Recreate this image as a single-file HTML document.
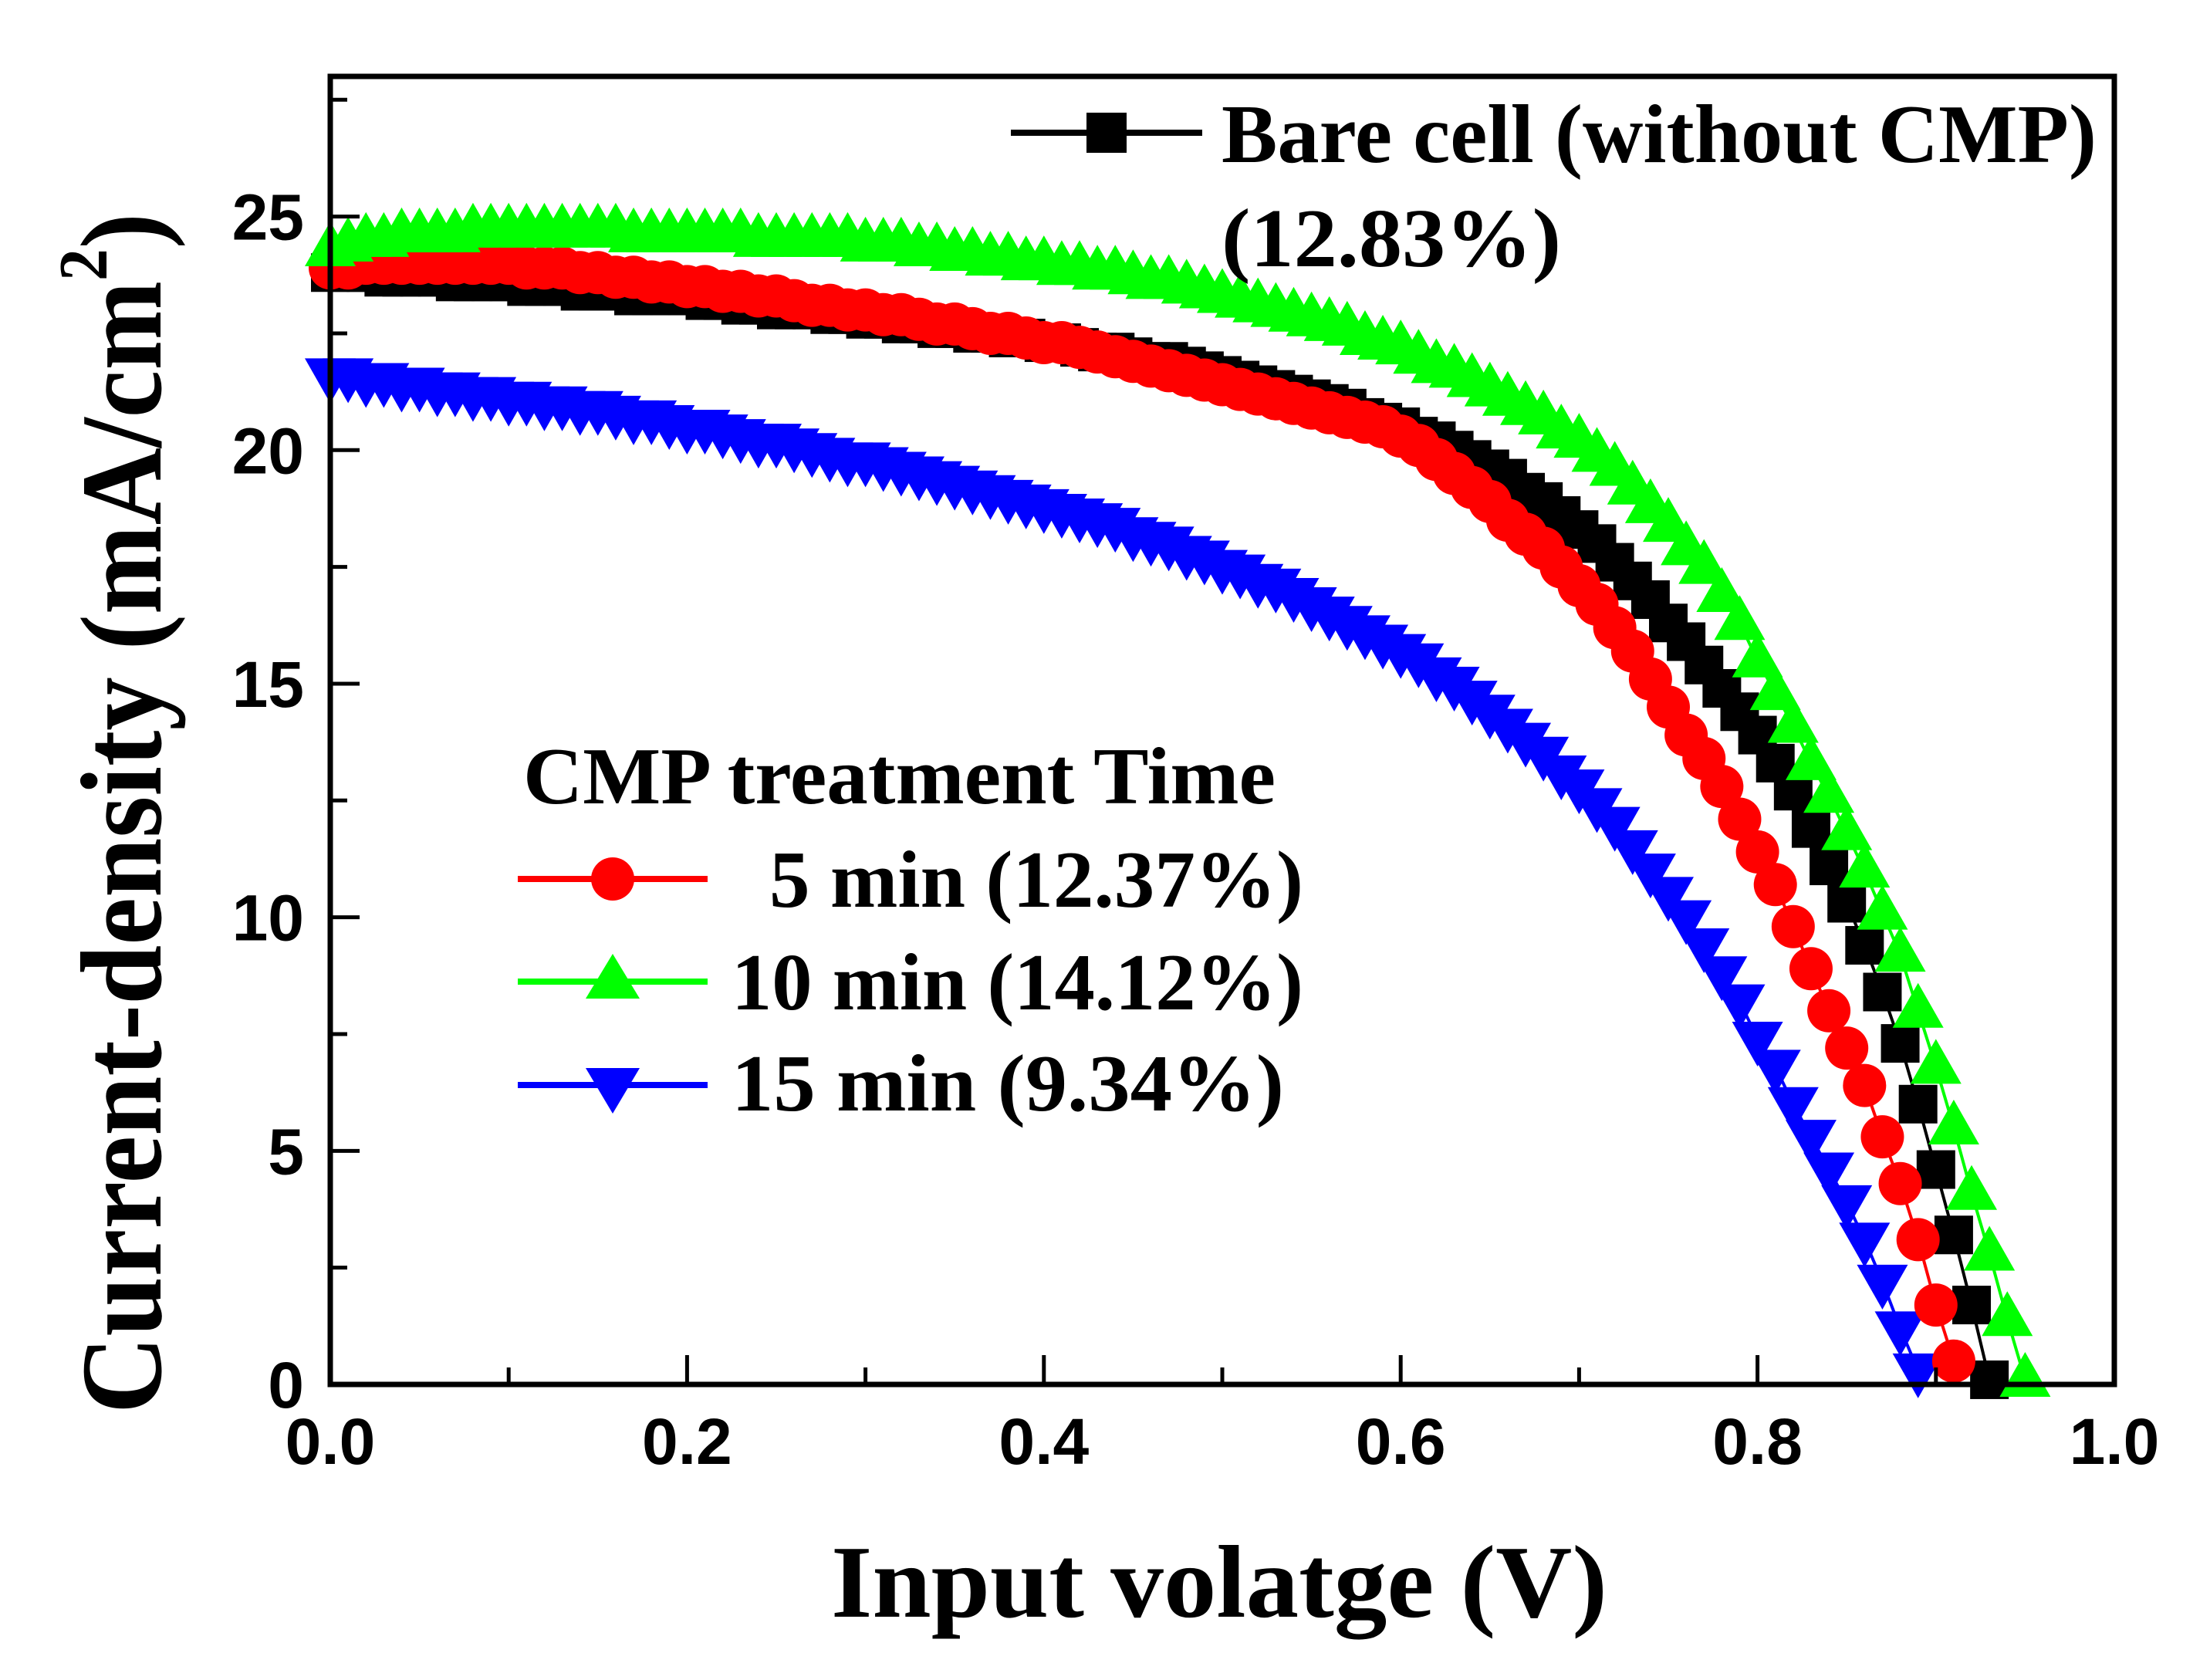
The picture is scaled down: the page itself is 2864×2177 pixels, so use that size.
<!DOCTYPE html>
<html><head><meta charset="utf-8"><style>
html,body{margin:0;padding:0;background:#fff;}
svg{display:block;}
.tl{font-family:"Liberation Sans",Arial,sans-serif;font-weight:bold;font-size:84px;fill:#000;}
.tt{font-family:"Liberation Serif","Times New Roman",serif;font-weight:bold;fill:#000;}
</style></head><body>
<svg id="chart" xmlns="http://www.w3.org/2000/svg" width="2864" height="2177" viewBox="0 0 2864 2177">
<g id="series"></g>
<g id="axes"></g>
<text class="tt" x="1077" y="2095" font-size="134" textLength="1006" lengthAdjust="spacingAndGlyphs">Input volatge (V)</text>
<text class="tt" transform="translate(208,1832) rotate(-90)" font-size="150" textLength="1556" lengthAdjust="spacingAndGlyphs">Current-density (mA/cm<tspan dy="-70" font-size="90">2</tspan><tspan dy="70">)</tspan></text>
<g>
<line x1="1310" y1="172" x2="1558" y2="172" stroke="#000" stroke-width="8"/>
<rect x="1408" y="146" width="52" height="52" fill="#000"/>
<text class="tt" x="1583" y="210" font-size="108" textLength="1134" lengthAdjust="spacingAndGlyphs">Bare cell  (without CMP)</text>
<text class="tt" x="1583" y="345" font-size="108" textLength="440" lengthAdjust="spacingAndGlyphs">(12.83%)</text>
</g>
<g>
<text class="tt" x="678" y="1041" font-size="105" textLength="975" lengthAdjust="spacingAndGlyphs">CMP treatment Time</text>
<line x1="671" y1="1139" x2="917" y2="1139" stroke="#f00" stroke-width="8"/>
<circle cx="794" cy="1139" r="28" fill="#f00"/>
<text class="tt" x="997" y="1175" font-size="105" textLength="692" lengthAdjust="spacingAndGlyphs">5 min (12.37%)</text>
<line x1="671" y1="1272" x2="917" y2="1272" stroke="#0f0" stroke-width="8"/>
<polygon points="794,1236 829,1294 759,1294" fill="#0f0"/>
<text class="tt" x="948" y="1308" font-size="105" textLength="741" lengthAdjust="spacingAndGlyphs">10 min (14.12%)</text>
<line x1="671" y1="1406" x2="917" y2="1406" stroke="#00f" stroke-width="8"/>
<polygon points="759,1384 829,1384 794,1443" fill="#00f"/>
<text class="tt" x="948" y="1439" font-size="105" textLength="716" lengthAdjust="spacingAndGlyphs">15 min  (9.34%)</text>
</g>
</svg>
<script>
const volts=[0,0.01,0.02,0.03,0.04,0.05,0.06,0.07,0.08,0.09,0.10,0.11,0.12,0.13,0.14,0.15,0.16,0.17,0.18,0.19,0.20,0.21,0.22,0.23,0.24,0.25,0.26,0.27,0.28,0.29,0.30,0.31,0.32,0.33,0.34,0.35,0.36,0.37,0.38,0.39,0.40,0.41,0.42,0.43,0.44,0.45,0.46,0.47,0.48,0.49,0.50,0.51,0.52,0.53,0.54,0.55,0.56,0.57,0.58,0.59,0.60,0.61,0.62,0.63,0.64,0.65,0.66,0.67,0.68,0.69,0.70,0.71,0.72,0.73,0.74,0.75,0.76,0.77,0.78,0.79,0.80,0.81,0.82,0.83,0.84,0.85,0.86,0.87,0.88,0.89,0.90,0.91,0.92,0.93,0.94,0.95];
const bareJ=[23.8,23.8,23.8,23.7,23.7,23.7,23.7,23.6,23.6,23.6,
23.6,23.5,23.5,23.5,23.4,23.4,23.4,23.3,23.3,23.3,
23.3,23.2,23.2,23.1,23.1,23.0,23.0,23.0,22.9,22.9,
22.8,22.8,22.7,22.7,22.6,22.6,22.5,22.5,22.4,22.4,
22.3,22.3,22.2,22.1,22.1,22.0,21.9,21.9,21.8,21.7,
21.6,21.5,21.4,21.3,21.2,21.1,21.0,20.9,20.7,20.6,
20.5,20.3,20.2,20.0,19.8,19.6,19.4,19.1,18.9,18.6,
18.3,18.0,17.6,17.2,16.8,16.3,15.9,15.4,14.9,14.4,
13.9,13.3,12.7,11.9,11.1,10.3,9.4,8.4,7.3,6.0,
4.6,3.2,1.7,0.1];
const min5J=[23.9,23.9,24.0,24.0,24.0,24.0,24.0,24.0,24.0,24.0,
24.0,23.9,23.9,23.9,23.8,23.8,23.7,23.7,23.6,23.6,
23.5,23.5,23.4,23.4,23.3,23.3,23.2,23.1,23.1,23.0,
23.0,22.9,22.9,22.8,22.7,22.7,22.6,22.5,22.5,22.4,
22.3,22.3,22.2,22.1,22.0,21.9,21.8,21.7,21.6,21.5,
21.4,21.3,21.2,21.1,21.0,20.9,20.8,20.7,20.6,20.5,
20.3,20.1,19.8,19.5,19.2,18.9,18.5,18.2,17.9,17.5,
17.1,16.7,16.2,15.7,15.1,14.5,13.9,13.4,12.8,12.1,
11.4,10.7,9.8,8.9,8.0,7.2,6.4,5.3,4.3,3.1,
1.7,0.5];
const min10J=[24.3,24.4,24.5,24.5,24.6,24.6,24.6,24.6,24.7,24.7,
24.7,24.7,24.7,24.7,24.7,24.7,24.7,24.6,24.6,24.6,
24.6,24.6,24.6,24.6,24.5,24.5,24.5,24.5,24.5,24.5,
24.4,24.4,24.4,24.3,24.3,24.2,24.2,24.1,24.1,24.0,
24.0,23.9,23.9,23.8,23.8,23.7,23.6,23.6,23.5,23.4,
23.3,23.2,23.1,23.0,22.9,22.8,22.7,22.6,22.4,22.3,
22.2,22.0,21.8,21.7,21.5,21.3,21.1,20.9,20.7,20.4,
20.2,19.9,19.6,19.2,18.8,18.4,17.9,17.5,16.9,16.3,
15.5,14.8,14.1,13.3,12.6,11.8,11.0,10.1,9.2,8.0,
6.8,5.5,4.1,2.8,1.4,0.1];
const min15J=[21.6,21.6,21.5,21.5,21.4,21.4,21.3,21.3,21.2,21.2,
21.1,21.1,21.0,21.0,20.9,20.9,20.8,20.7,20.7,20.6,
20.5,20.5,20.4,20.3,20.2,20.2,20.1,20.0,19.9,19.8,
19.8,19.7,19.6,19.5,19.4,19.3,19.2,19.1,19.0,18.9,
18.8,18.7,18.6,18.5,18.4,18.2,18.1,18.0,17.8,17.7,
17.5,17.4,17.2,17.1,16.9,16.7,16.5,16.3,16.1,15.9,
15.7,15.5,15.2,15.0,14.7,14.4,14.1,13.8,13.5,13.1,
12.8,12.4,12.0,11.5,11.0,10.5,10.0,9.4,8.8,8.2,
7.4,6.8,6.0,5.3,4.6,3.9,3.1,2.2,1.2,0.3];
const xTicks=[0,0.2,0.4,0.6,0.8,1.0];
const xTickLabels=["0.0","0.2","0.4","0.6","0.8","1.0"];
const yTicks=[0,5,10,15,20,25];
const yTickLabels=["0","5","10","15","20","25"];

const NS="http://www.w3.org/2000/svg";
const L=428,R=2740,B=1794,T=99,XMAX=1,YMAX=28;
const sx=v=>L+(v/XMAX)*(R-L);
const sy=j=>B-(j/YMAX)*(B-T);
function mk(tag,attrs,parent){const e=document.createElementNS(NS,tag);for(const k in attrs)e.setAttribute(k,attrs[k]);parent.appendChild(e);return e;}
const sg=document.getElementById('series');
function drawSeries(name,vals,color,shape){
  const g=mk('g',{},sg);
  
  
  const pts=vals.map((j,i)=>sx(volts[i])+','+sy(j)).join(' ');
  const ln=mk('polyline',{points:pts,fill:'none',stroke:color,'stroke-width':4},g);
  
  
  vals.forEach((j,i)=>{
    const x=sx(volts[i]),y=sy(j);let m;
    if(shape==='sq')m=mk('rect',{x:x-25,y:y-25,width:50,height:50,fill:color},g);
    else if(shape==='ci')m=mk('circle',{cx:x,cy:y,r:28,fill:color},g);
    else if(shape==='up')m=mk('polygon',{points:`${x},${y-36} ${x+33},${y+22} ${x-33},${y+22}`,fill:color},g);
    else m=mk('polygon',{points:`${x-33},${y-22} ${x+33},${y-22} ${x},${y+36}`,fill:color},g);
    
    
  });
}
drawSeries('series-bare',bareJ,'#000','sq');
drawSeries('series-15min',min15J,'#00f','dn');
drawSeries('series-5min',min5J,'#f00','ci');
drawSeries('series-10min',min10J,'#0f0','up');

const ax=document.getElementById('axes');
const frame=mk('rect',{x:L,y:T,width:R-L,height:B-T,fill:'none',stroke:'#000','stroke-width':7},ax);


xTicks.forEach((v,i)=>{
  const t=mk('line',{x1:sx(v),x2:sx(v),y1:B,y2:B-38,stroke:'#000','stroke-width':5},ax);
  
  
  if(i<xTicks.length-1){const m=mk('line',{x1:sx(v+0.1),x2:sx(v+0.1),y1:B,y2:B-22,stroke:'#000','stroke-width':5},ax);
  
  }
  const tx=mk('text',{x:sx(v),y:1897,'text-anchor':'middle',class:'tl'},ax);
  tx.textContent=xTickLabels[i];
  
  
});
yTicks.forEach((j,i)=>{
  const t=mk('line',{x1:L,x2:L+38,y1:sy(j),y2:sy(j),stroke:'#000','stroke-width':5},ax);
  
  
  const m=mk('line',{x1:L,x2:L+22,y1:sy(j+2.5),y2:sy(j+2.5),stroke:'#000','stroke-width':5},ax);
  
  
  const tx=mk('text',{x:394,y:sy(j)+30,'text-anchor':'end',class:'tl'},ax);
  tx.textContent=yTickLabels[i];
  
  
});
</script>
</body></html>
